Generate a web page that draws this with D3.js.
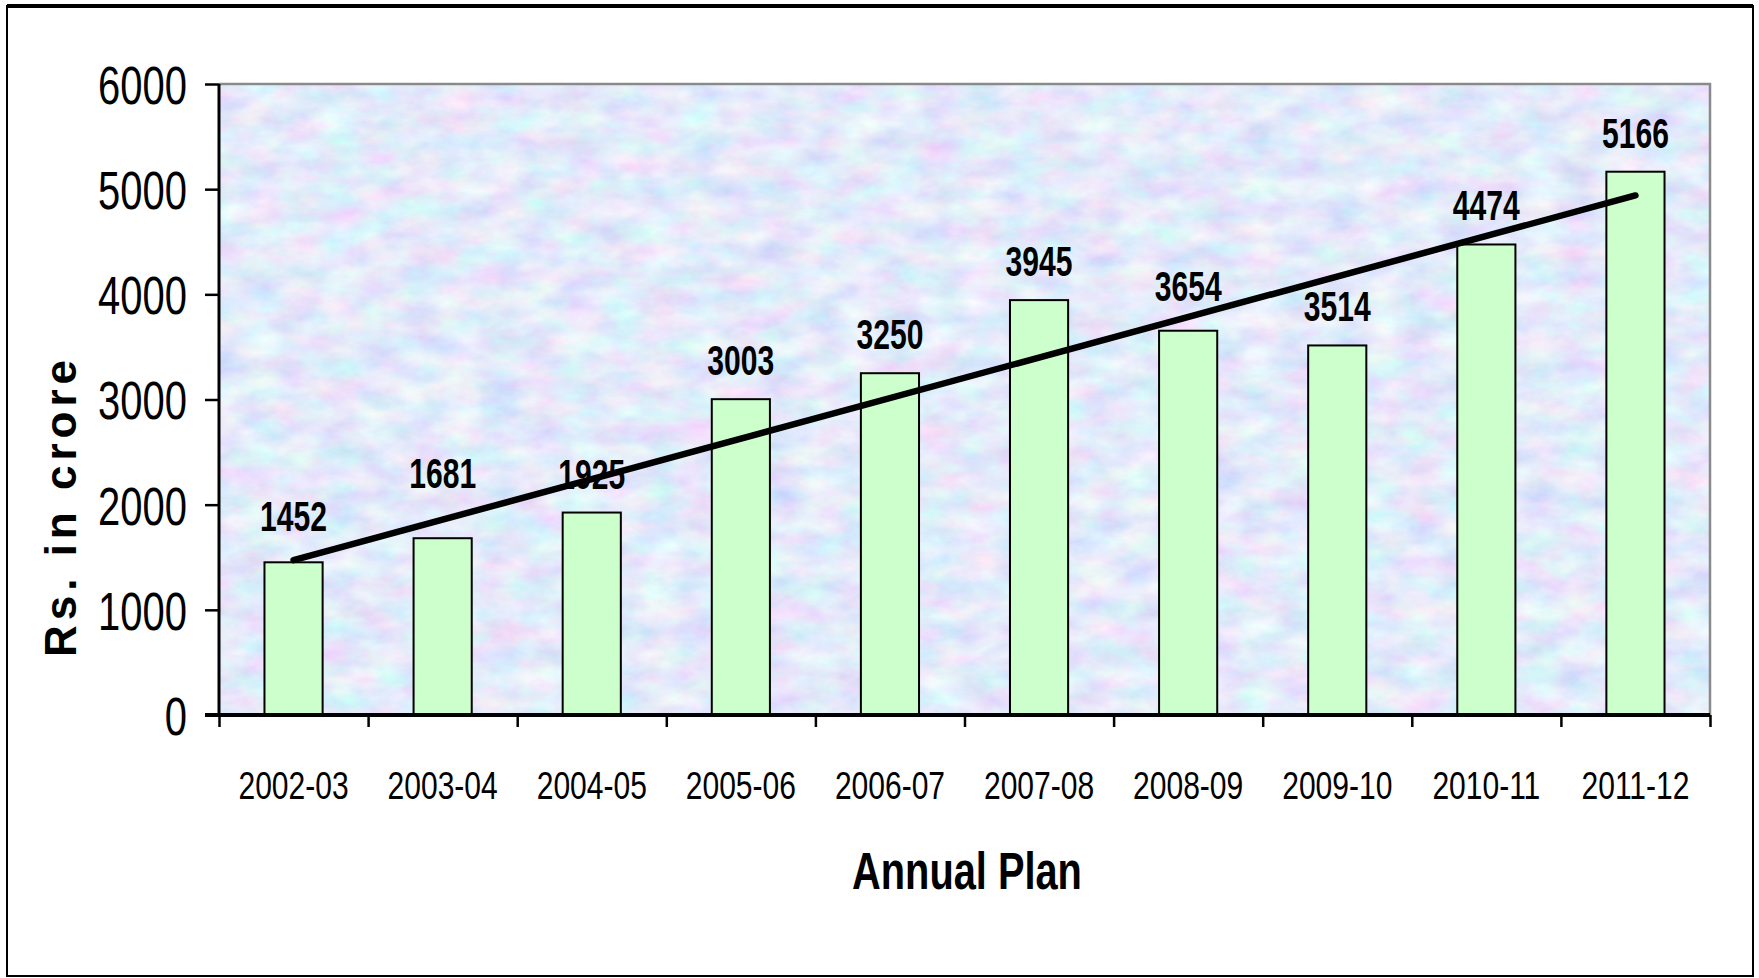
<!DOCTYPE html>
<html>
<head>
<meta charset="utf-8">
<script src="https://cdn.jsdelivr.net/npm/d3@7"></script>
<style>
  html, body { margin: 0; padding: 0; background: #ffffff; }
  svg { display: block; }
  text { font-family: "Liberation Sans", Arial, sans-serif; fill: #000; }
</style>
</head>
<body>
<svg id="chart" width="1759" height="978"></svg>
<script>
// ---- data ----
const categories = ["2002-03","2003-04","2004-05","2005-06","2006-07","2007-08","2008-09","2009-10","2010-11","2011-12"];
const values = [1452, 1681, 1925, 3003, 3250, 3945, 3654, 3514, 4474, 5166];
const yTicks = [0, 1000, 2000, 3000, 4000, 5000, 6000];
const yTitle = "Rs. in crore";
const xTitle = "Annual Plan";
// small manual nudges of the value labels (pixels), as placed in the original
const labelNudge = [-7, -26, 0, 0, 0, 0, -6, 0, 0, 0];

// ---- layout ----
const plot = { left: 219, right: 1710, top: 84, bottom: 715 };

const svg = d3.select("#chart");

// texture filter for the plot background
const defs = svg.append("defs");
const f = defs.append("filter").attr("id", "tex")
  .attr("x", 0).attr("y", 0).attr("width", 1).attr("height", 1)
  .attr("filterUnits", "objectBoundingBox");
f.append("feTurbulence").attr("type", "fractalNoise")
  .attr("baseFrequency", "0.025 0.045").attr("numOctaves", 4).attr("seed", 11).attr("result", "n");
f.append("feColorMatrix").attr("in", "n").attr("type", "matrix")
  .attr("values", [
    0.50, 0, 0, 0, 0.52,
    0, 0.45, 0, 0, 0.60,
    0, 0, 0.15, 0, 0.88,
    0, 0, 0, 0, 1
  ].join(" ")).attr("result", "c");
f.append("feComposite").attr("in", "c").attr("in2", "SourceGraphic").attr("operator", "in");

// outer frame
svg.append("rect").attr("x", 7).attr("y", 6).attr("width", 1746).attr("height", 970)
  .attr("fill", "#fff").attr("stroke", "#000").attr("stroke-width", 2);
svg.append("line").attr("x1", 7).attr("x2", 1753).attr("y1", 6).attr("y2", 6)
  .attr("stroke", "#000").attr("stroke-width", 4);

// scales
const x = d3.scaleBand().domain(categories).range([plot.left, plot.right])
  .paddingInner(0.61).paddingOuter(0.305);
const xb = d3.scaleLinear().domain([0, categories.length]).range([plot.left, plot.right]);
const y = d3.scaleLinear().domain([0, 6000]).range([plot.bottom, plot.top]);

// plot background
svg.append("rect").attr("x", plot.left).attr("y", plot.top)
  .attr("width", plot.right - plot.left).attr("height", plot.bottom - plot.top)
  .attr("fill", "#c8d6f2").attr("filter", "url(#tex)");
// top & right border (gray)
svg.append("path")
  .attr("d", `M${plot.left},${plot.top}H${plot.right}V${plot.bottom}`)
  .attr("fill", "none").attr("stroke", "#8a8a8a").attr("stroke-width", 2.5);

// bars
svg.append("g").selectAll("rect").data(values).join("rect")
  .attr("x", (d, i) => x(categories[i]))
  .attr("y", d => y(d))
  .attr("width", x.bandwidth())
  .attr("height", d => y(0) - y(d))
  .attr("fill", "#ccffcc").attr("stroke", "#000").attr("stroke-width", 2);

// linear trend line (least squares fit of the values)
const n = values.length;
const xs = d3.range(1, n + 1);
const mx = d3.mean(xs), my = d3.mean(values);
const slope = d3.sum(xs, (xi, i) => (xi - mx) * (values[i] - my)) / d3.sum(xs, xi => (xi - mx) ** 2);
const icpt = my - slope * mx;
const trend = [1, n].map(xi => [x(categories[xi - 1]) + x.bandwidth() / 2, y(icpt + slope * xi)]);
svg.append("path").attr("d", d3.line()(trend))
  .attr("fill", "none").attr("stroke", "#000").attr("stroke-width", 6.5).attr("stroke-linecap", "round");

// value labels
svg.append("g").selectAll("text").data(values).join("text")
  .attr("transform", (d, i) => `translate(${x(categories[i]) + x.bandwidth() / 2},${y(d) - 24 + labelNudge[i]}) scale(0.7,1)`)
  .attr("text-anchor", "middle")
  .attr("font-size", 43).attr("font-weight", "bold")
  .text(d => d);

// y axis
const yAxis = svg.append("g").attr("transform", `translate(${plot.left},0)`)
  .call(d3.axisLeft(y).tickValues(yTicks).tickSize(14).tickFormat(d3.format("d")));
yAxis.select(".domain").attr("stroke", "#000").attr("stroke-width", 3)
  .attr("d", `M0,${plot.top}V${plot.bottom}`);
yAxis.selectAll(".tick line").attr("stroke", "#000").attr("stroke-width", 2.5);
yAxis.selectAll(".tick text")
  .attr("x", 0).attr("dy", "0.36em")
  .attr("transform", "translate(-32,0) scale(0.74,1)")
  .attr("font-size", 54).attr("font-family", "Liberation Sans, Arial, sans-serif").attr("fill", "#000");

// x axis: boundary ticks
const xAxisTicks = svg.append("g").attr("transform", `translate(0,${plot.bottom})`)
  .call(d3.axisBottom(xb).tickValues(d3.range(0, categories.length + 1)).tickSize(12).tickFormat(""));
xAxisTicks.select(".domain").attr("stroke", "#000").attr("stroke-width", 4)
  .attr("d", `M${plot.left - 14},0H${plot.right}`);
xAxisTicks.selectAll(".tick line").attr("stroke", "#000").attr("stroke-width", 2.5);

// x axis: category labels
const xAxis = svg.append("g").attr("transform", `translate(0,${plot.bottom})`)
  .call(d3.axisBottom(x).tickSize(0));
xAxis.select(".domain").remove();
xAxis.selectAll(".tick text")
  .attr("y", 0).attr("dy", 0)
  .attr("transform", "translate(0,84) scale(0.79,1)")
  .attr("font-size", 38).attr("font-family", "Liberation Sans, Arial, sans-serif").attr("fill", "#000");

// axis titles
svg.append("text")
  .attr("transform", "translate(76,506) rotate(-90)")
  .attr("text-anchor", "middle")
  .attr("font-size", 44).attr("font-weight", "bold").attr("letter-spacing", 5)
  .text(yTitle);
svg.append("text")
  .attr("transform", "translate(967,889) scale(0.765,1)")
  .attr("text-anchor", "middle")
  .attr("font-size", 52).attr("font-weight", "bold")
  .text(xTitle);
</script>
</body>
</html>
